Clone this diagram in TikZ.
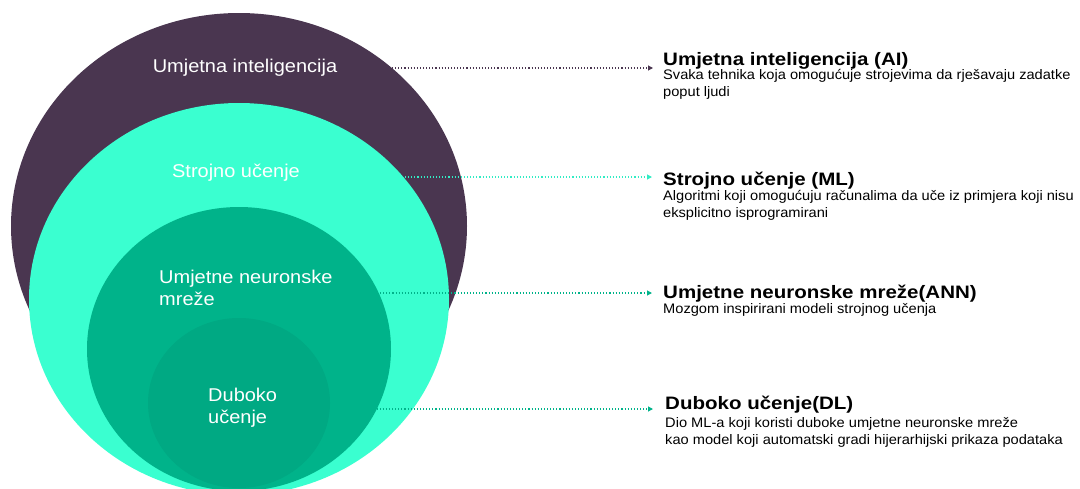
\documentclass[tikz,border=0pt]{standalone}
\usepackage{fontspec}
\setmainfont{Liberation Sans}
\usepackage{tikz}
\usetikzlibrary{arrows.meta,calc,shapes.geometric}
\definecolor{aiPurple}{HTML}{4A3650}
\definecolor{mlTeal}{HTML}{3AFFD0}
\definecolor{annGreen}{HTML}{00B38A}
\definecolor{dlGreen}{HTML}{00A983}

\begin{document}
\begin{tikzpicture}[x=1pt, y=-1pt,
		blob/.style={ellipse, inner sep=0pt, draw=none},
		inlabel/.style={text=white, inner sep=0pt, xscale=1.08, font=\fontsize{18.5}{22}\selectfont, align=left},
		title/.style={inner sep=0pt, anchor=base west, xscale=1.14, font=\fontsize{18}{20}\selectfont\bfseries},
		desc/.style={inner sep=0pt, anchor=base west, xscale=1.06, align=left, font=\fontsize{13.8}{17}\selectfont},
		link/.style={dotted, line width=1.1pt, -{Triangle[length=5pt, width=5pt]}}]
		\clip (0,0) rectangle (1080,488);
		% nested sets
		\node[blob, fill=aiPurple, minimum width=456pt, minimum height=426pt] (ai) at (239,226) {};
		\node[blob, fill=mlTeal, minimum width=420pt, minimum height=392pt] (ml) at (239,299) {};
		\node[blob, fill=annGreen, minimum width=304pt, minimum height=284pt] (ann) at (239,349) {};
		\node[blob, fill=dlGreen, minimum width=182pt, minimum height=170pt] (dl) at (239,403) {};

		% base of a two-line node is its last line
		\node[inlabel, anchor=base] (aiL) at (245,72) {Umjetna inteligencija};
		\node[inlabel, anchor=base] (mlL) at (236,177) {Strojno učenje};
		\node[inlabel, anchor=base west] (annL) at (159,305) {Umjetne neuronske\\mreže};
		\node[inlabel, anchor=base west] (dlL) at (208,423) {Duboko\\učenje};

		% explanations
		\node[title] (aiT) at (663,65) {Umjetna inteligencija (AI)};
		\node[desc] (aiD) at (663,96) {Svaka tehnika koja omogućuje strojevima da rješavaju zadatke\\poput ljudi};
		\node[title] (mlT) at (663,185) {Strojno učenje (ML)};
		\node[desc] (mlD) at (663,217) {Algoritmi koji omogućuju računalima da uče iz primjera koji nisu\\eksplicitno isprogramirani};
		\node[title] (annT) at (663,298) {Umjetne neuronske mreže(ANN)};
		\node[desc] (annD) at (663,313) {Mozgom inspirirani modeli strojnog učenja};
		\node[title] (dlT) at (665,409) {Duboko učenje(DL)};
		\node[desc] (dlD) at (665,444) {Dio ML-a koji koristi duboke umjetne neuronske mreže\\kao model koji automatski gradi hijerarhijski prikaza podataka};

		\coordinate (aiS) at (392,68);
		\coordinate (mlS) at (405,177);
		\coordinate (annS) at (380,293);
		\coordinate (dlS) at (330,409);
		\draw[link, aiPurple] (aiS) -- (aiS -| 653,0);
		\draw[link, mlTeal!85!teal] (mlS) -- (mlS -| 652,0);
		\draw[link, annGreen] (annS) -- (annS -| 652,0);
		\draw[link, annGreen] (dlS) -- (dlS -| 653,0);
	\end{tikzpicture}
\end{document}
